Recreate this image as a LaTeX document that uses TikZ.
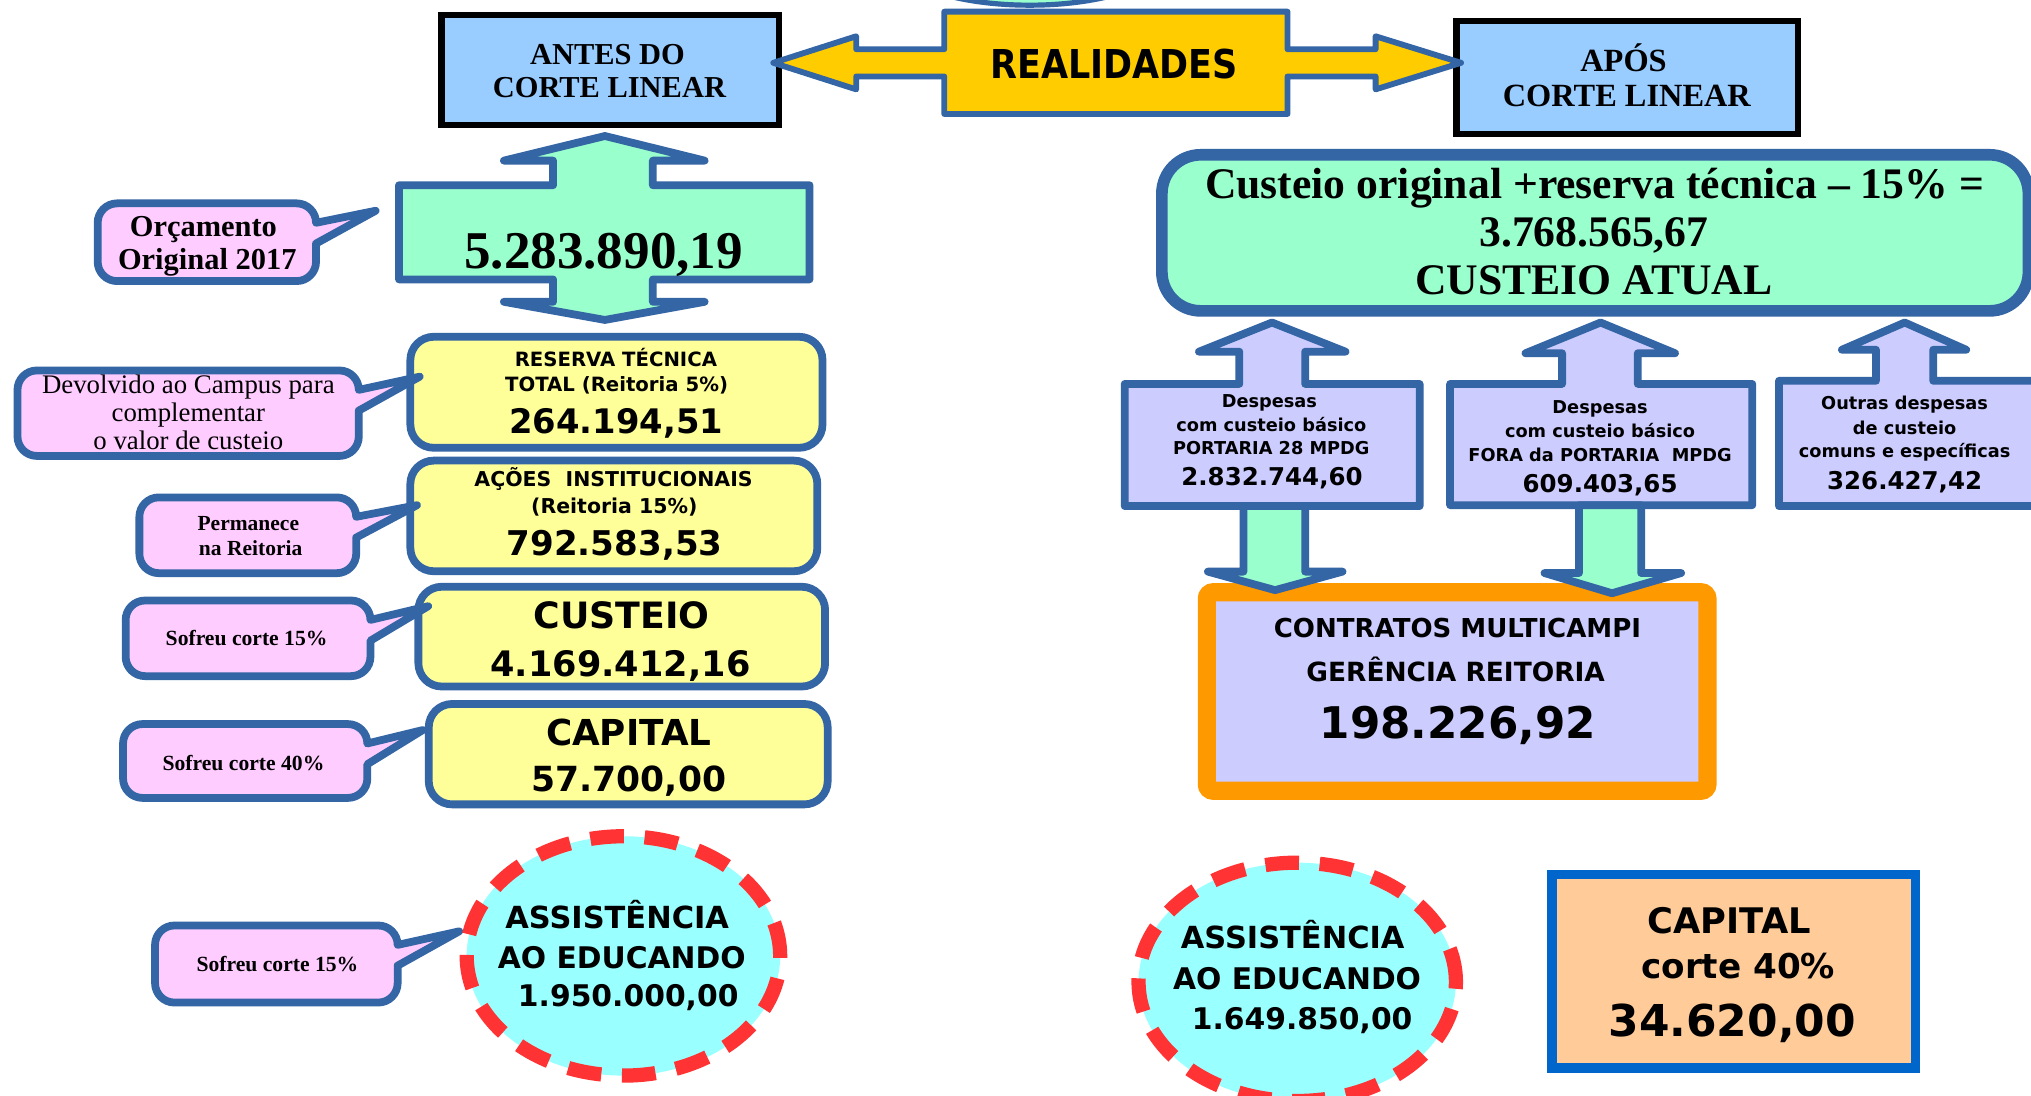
\documentclass[tikz,border=0pt]{standalone}
\usepackage{fontspec}
\setmainfont{Liberation Serif}
\newfontfamily\vsans{DejaVu Sans}
\newcommand\mySans[1]{\vsans\bfseries\fontsize{#1}{#1}\selectfont}
\newcommand\mySerifB[1]{\rmfamily\bfseries\fontsize{#1}{#1}\selectfont}
\newcommand\mySerif[1]{\rmfamily\mdseries\fontsize{#1}{#1}\selectfont}
\definecolor{bblue}{RGB}{52,101,164}
\definecolor{lblue}{HTML}{99CCFF}
\definecolor{gold}{HTML}{FFCC00}
\definecolor{mint}{HTML}{99FFCC}
\definecolor{pinkc}{HTML}{FFCCFF}
\definecolor{lyellow}{HTML}{FFFF99}
\definecolor{lav}{HTML}{CCCCFF}
\definecolor{orng}{HTML}{FF9900}
\definecolor{cyanl}{HTML}{99FFFF}
\definecolor{dred}{HTML}{FF3333}
\definecolor{cblue}{HTML}{0066CC}
\definecolor{peach}{HTML}{FFCC99}
\tikzset{
  blackbox/.style={draw=black, line width=4.8pt, fill=lblue},
  goldarrow/.style={draw=bblue, line width=4.5pt, fill=gold, line join=round},
  crossarrow/.style={draw=bblue, line width=6pt, fill=mint, line join=round},
  ybox/.style={draw=bblue, line width=6pt, fill=lyellow, rounded corners=18pt},
  callout/.style={draw=bblue, line width=6pt, fill=pinkc, line join=round},
  lavbox/.style={draw=bblue, line width=6pt, fill=lav, line join=round},
  dashell/.style={draw=dred, line width=11pt, fill=cyanl, dash pattern=on 26pt off 16pt},
  txt/.style={inner sep=0pt, anchor=base}
}
% l t r b tipx tipy
\newcommand\mycallout[6]{\draw[callout] (#3,#2+31) -- (#3,#4-15) arc[start angle=0,end angle=-90,radius=15pt] -- (#1+15,#4) arc[start angle=-90,end angle=-180,radius=15pt] -- (#1,#2+15) arc[start angle=180,end angle=90,radius=15pt] -- (#3-15,#2) arc[start angle=90,end angle=0,radius=15pt] -- (#5,#6) -- cycle;}
\begin{document}
\begin{tikzpicture}[x=1pt,y=-1pt]
\useasboundingbox (0,0) rectangle (1568,846);
\fill[white] (0,0) rectangle (1568,846);
% top fragment
\draw[draw=bblue,line width=4pt,fill=mint] (795,-36) ellipse [x radius=110pt, y radius=40pt];
% ANTES box
\draw[blackbox] (340.9,11.3) rectangle (601.5,96.5);
\node[txt,font={\mySerifB{23.5}}] (antesA) at (469,49.5) {ANTES DO};
\node[txt,font={\mySerifB{23.5}}] (antesB) at (470.5,75.2) {CORTE LINEAR};
% APOS box
\draw[blackbox] (1124.4,16.4) rectangle (1388.2,103.3);
\node[txt,font={\mySerifB{25}}] (aposA) at (1253.4,54.9) {APÓS};
\node[txt,font={\mySerifB{25}}] (aposB) at (1256,82.5) {CORTE LINEAR};
% REALIDADES double arrow
\draw[goldarrow] (597,48.5) -- (661,28) -- (661,38) -- (729,38) -- (729,9) -- (994,9) -- (994,38) -- (1062,38) -- (1062,28) -- (1128,48.5) -- (1062,69) -- (1062,59) -- (994,59) -- (994,88) -- (729,88) -- (729,59) -- (661,59) -- (661,69) -- cycle;
\node[txt,font={\mySans{30.7}}] (real) at (860.3,60.5) {\scalebox{0.88}[1]{REALIDADES}};
% green cross arrow
\draw[crossarrow] (467,105) -- (544,124) -- (504,124) -- (504,143) -- (625,143) -- (625,215.7) -- (504,215.7) -- (504,233) -- (544,233) -- (467,247) -- (389,233) -- (427,233) -- (427,215.7) -- (308,215.7) -- (308,143) -- (427,143) -- (427,124) -- (389,124) -- cycle;
\node[txt,font={\mySerifB{41}}] (orig) at (466,207.2) {5.283.890,19};
% yellow boxes
\draw[ybox] (316.8,260) rectangle (635,345.7);
\node[txt,font={\mySans{15.2}}] (resA) at (475.5,282.6) {RESERVA TÉCNICA};
\node[txt,font={\mySans{15.2}}] (resB) at (476,302.4) {TOTAL (Reitoria 5\%)};
\node[txt,font={\mySans{26.1}}] (resC) at (475.7,334.5) {264.194,51};
\draw[ybox] (316.8,355.6) rectangle (631,441);
\node[txt,font={\mySans{15.8}}] (acoA) at (473.7,375.7) {AÇÕES\ \ INSTITUCIONAIS};
\node[txt,font={\mySans{15.8}}] (acoB) at (474.3,396.3) {(Reitoria 15\%)};
\node[txt,font={\mySans{26.3}}] (acoC) at (474.5,428.5) {792.583,53};
\draw[ybox] (323,453) rectangle (637,530);
\node[txt,font={\mySans{28}}] (cusA) at (480,485.1) {CUSTEIO};
\node[txt,font={\mySans{27.1}}] (cusB) at (479,522.4) {4.169.412,16};
\draw[ybox] (331,543.5) rectangle (639,621);
\node[txt,font={\mySans{27.6}}] (capA) at (485.4,575.2) {CAPITAL};
\node[txt,font={\mySans{26.7}}] (capB) at (485.4,611.2) {57.700,00};
% callouts
\mycallout{75.4}{157}{244}{217}{290}{162.7}
\node[txt,font={\mySerifB{23.5}}] (orcA) at (157,182.2) {Orçamento};
\node[txt,font={\mySerifB{23.5}}] (orcB) at (160,208) {Original 2017};
\mycallout{13.5}{286}{277}{352}{324}{290.8}
\node[txt,font={\mySerif{20.7}}] (devA) at (145.4,303.5) {Devolvido ao Campus para};
\node[txt,font={\mySerif{20.7}}] (devB) at (145.4,325.5) {complementar};
\node[txt,font={\mySerif{20.7}}] (devC) at (145.4,347.4) {o valor de custeio};
\mycallout{107.6}{384}{275}{442.5}{322}{390}
\node[txt,font={\mySerifB{16.6}}] (perA) at (191.7,409.2) {Permanece};
\node[txt,font={\mySerifB{16.6}}] (perB) at (193.5,428.5) {na Reitoria};
\mycallout{97}{463.6}{286}{522}{330.6}{468}
\node[txt,font={\mySerifB{16.7}}] (sofA) at (190.4,498) {Sofreu corte 15\%};
\mycallout{95}{559}{283.6}{616}{326.4}{563.6}
\node[txt,font={\mySerifB{16.7}}] (sofB) at (188,594.5) {Sofreu corte 40\%};
\mycallout{119.7}{714.5}{307}{774}{354.5}{719}
\node[txt,font={\mySerifB{16.7}}] (sofC) at (214.2,750.2) {Sofreu corte 15\%};
% left dashed ellipse
\draw[dashell] (481.3,738) ellipse [x radius=121pt, y radius=92.4pt];
\node[txt,font={\mySans{23.5}}] (aeA) at (476.5,716.7) {ASSISTÊNCIA};
\node[txt,font={\mySans{23}}] (aeB) at (480,747.6) {AO EDUCANDO};
\node[txt,font={\mySans{23}}] (aeC) at (485,777.2) {1.950.000,00};
% big green box
\draw[draw=bblue,line width=9pt,fill=mint,rounded corners=30pt] (897,119.5) rectangle (1566,240);
\node[txt,font={\mySerifB{33.7}}] (cgA) at (1231,153.1) {Custeio original +reserva técnica – 15\% =};
\node[txt,font={\mySerifB{33.7}}] (cgB) at (1230.5,190.4) {3.768.565,67};
\node[txt,font={\mySerifB{33.7}}] (cgC) at (1230.5,227.7) {CUSTEIO ATUAL};
% lavender boxes with up arrows
\draw[lavbox] (982,249) -- (1038.8,271.5) -- (1007.6,271.5) -- (1007.6,296.4) -- (1096,296.4) -- (1096,390.7) -- (868.3,390.7) -- (868.3,296.4) -- (956.8,296.4) -- (956.8,271.5) -- (925.6,271.5) -- cycle;
\node[txt,font={\mySans{13.7}}] (l1A) at (980,314.5) {Despesas};
\node[txt,font={\mySans{13.7}}] (l1B) at (981.5,333.3) {com custeio básico};
\node[txt,font={\mySans{13.7}}] (l1C) at (981.5,350.8) {PORTARIA 28 MPDG};
\node[txt,font={\mySans{18.9}}] (l1D) at (982,375.2) {2.832.744,60};
\draw[lavbox] (1235.7,249) -- (1293.2,272.7) -- (1264.4,272.7) -- (1264.4,296.4) -- (1352.8,296.4) -- (1352.8,390) -- (1119.5,390) -- (1119.5,296.4) -- (1206,296.4) -- (1206,272.7) -- (1177.7,272.7) -- cycle;
\node[txt,font={\mySans{13.7}}] (l2A) at (1235.3,319.1) {Despesas};
\node[txt,font={\mySans{13.7}}] (l2B) at (1235.3,337.9) {com custeio básico};
\node[txt,font={\mySans{13.7}}] (l2C) at (1235.3,356.4) {FORA da PORTARIA\ \ MPDG};
\node[txt,font={\mySans{18.9}}] (l2D) at (1235.3,380.4) {609.403,65};
\draw[lavbox] (1470.5,249) -- (1518,270) -- (1492.5,270) -- (1492.5,294) -- (1575,294) -- (1575,390.7) -- (1373.4,390.7) -- (1373.4,294) -- (1448.3,294) -- (1448.3,270) -- (1422,270) -- cycle;
\node[txt,font={\mySans{13.7}}] (l3A) at (1470.4,316.5) {Outras despesas};
\node[txt,font={\mySans{13.7}}] (l3B) at (1470.4,335.3) {de custeio};
\node[txt,font={\mySans{13.7}}] (l3C) at (1470.4,353) {comuns e específicas};
\node[txt,font={\mySans{18.9}}] (l3D) at (1470.4,377.8) {326.427,42};
% orange box
\draw[draw=orng,line width=14pt,fill=lav,rounded corners=5pt] (931.7,457.2) rectangle (1318.2,610.5);
\node[txt,font={\mySans{20.1}}] (ctA) at (1125.2,492.3) {CONTRATOS MULTICAMPI};
\node[txt,font={\mySans{20.4}}] (ctB) at (1123.8,525.8) {GERÊNCIA REITORIA};
\node[txt,font={\mySans{33.7}}] (ctC) at (1125.5,570) {198.226,92};
% green down arrows
\draw[crossarrow] (960,390.7) -- (960,441.3) -- (932.5,441.3) -- (984.4,455.6) -- (1036.5,441.3) -- (1007.6,441.3) -- (1007.6,390.7) -- cycle;
\draw[crossarrow] (1219,390) -- (1219,442.4) -- (1192.4,442.4) -- (1244.5,458) -- (1297.9,442.4) -- (1267,442.4) -- (1267,390) -- cycle;
% right dashed ellipse
\draw[dashell] (1001.5,758) ellipse [x radius=122.5pt, y radius=92pt];
\node[txt,font={\mySans{23.5}}] (arA) at (998,732.1) {ASSISTÊNCIA};
\node[txt,font={\mySans{23}}] (arB) at (1001.4,763.8) {AO EDUCANDO};
\node[txt,font={\mySans{23}}] (arC) at (1005.3,794.7) {1.649.850,00};
% capital box right
\draw[draw=cblue,line width=7pt,fill=peach] (1198.2,675.2) rectangle (1478.5,824.5);
\node[txt,font={\mySans{27.2}}] (crA) at (1335,720.5) {CAPITAL};
\node[txt,font={\mySans{26.4}}] (crB) at (1342,755.3) {corte 40\%};
\node[txt,font={\mySans{33.9}}] (crC) at (1337.3,800) {34.620,00};
\end{tikzpicture}
\end{document}
